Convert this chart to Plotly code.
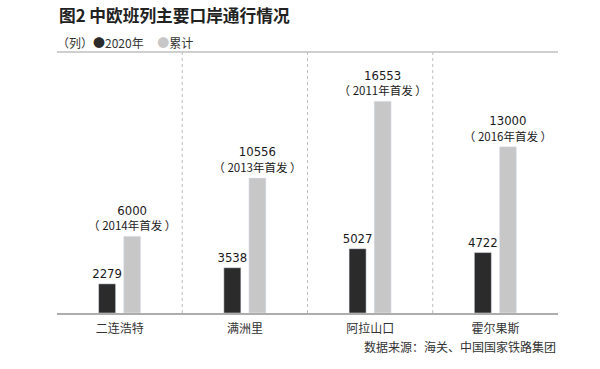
import plotly.graph_objects as go

ports = ["二连浩特", "满洲里", "阿拉山口", "霍尔果斯"]
trains_2020 = [2279, 3538, 5027, 4722]
trains_total = [6000, 10556, 16553, 13000]
first_year = [2014, 2013, 2011, 2016]

title_text = "图2 中欧班列主要口岸通行情况"
unit_text = "（列）"
series_names = ["2020年", "累计"]
source_text = "数据来源：海关、中国国家铁路集团"

DARK = "#2b2b2b"
LIGHT = "#c7c7c7"
NUM_FONT = "DejaVu Sans Condensed, Noto Sans CJK SC, sans-serif"
CJK_FONT = "Noto Sans CJK SC, sans-serif"

text_2020 = [str(v) for v in trains_2020]
text_total = [
    f"<span style='font-size:13px'>{v}</span><br>"
    f"<span style='font-family:Noto Sans CJK SC;font-size:11.5px'>（ {y}年首发 ）</span>"
    for v, y in zip(trains_total, first_year)
]

fig = go.Figure()
fig.add_trace(go.Bar(
    x=ports, y=trains_2020, name=series_names[0], marker_color=DARK,
    text=text_2020, textposition="outside", constraintext="none", cliponaxis=False,
    textfont=dict(family=NUM_FONT, size=13, color="#1a1a1a"), showlegend=False,
    hoverinfo="skip",
))
fig.add_trace(go.Bar(
    x=ports, y=trains_total, name=series_names[1], marker_color=LIGHT,
    text=text_total, textposition="outside", constraintext="none", cliponaxis=False,
    textfont=dict(family=NUM_FONT, size=12, color="#1a1a1a"), showlegend=False,
    hoverinfo="skip",
))

shapes = [
    dict(type="line", xref="paper", yref="paper", x0=0, x1=1, y0=1, y1=1,
         line=dict(color="#cfcfcf", width=2)),
]
for b in [0.5, 1.5, 2.5]:
    shapes.append(dict(type="line", xref="x", yref="paper", x0=b, x1=b, y0=0, y1=1,
                       line=dict(color="#bdbdbd", width=1, dash="dot")))

annotations = [
    dict(text=f"<b>{title_text}</b>", xref="paper", yref="paper", x=0.0, y=1.142,
         xanchor="left", yanchor="middle", showarrow=False,
         font=dict(family=CJK_FONT, size=16.7, color="#222")),
    dict(text=(f"{unit_text}<span style='color:{DARK}'>●</span>{series_names[0]}"
               f"     <span style='color:{LIGHT}'>●</span>{series_names[1]}"),
         xref="paper", yref="paper", x=-0.004, y=1.038,
         xanchor="left", yanchor="middle", showarrow=False,
         font=dict(family=CJK_FONT, size=12, color="#333")),
    dict(text=source_text, xref="paper", yref="paper", x=1.0, y=-0.13,
         xanchor="right", yanchor="middle", showarrow=False,
         font=dict(family=CJK_FONT, size=12, color="#333")),
]

fig.update_layout(
    width=600, height=369,
    margin=dict(l=57, r=42, t=52, b=56),
    paper_bgcolor="white", plot_bgcolor="white",
    barmode="group", bargap=0.6, bargroupgap=0.32,
    shapes=shapes, annotations=annotations,
    hovermode=False,
    xaxis=dict(showline=True, linecolor="#adadad", linewidth=2, ticks="",
               ticklabelstandoff=4,
               tickfont=dict(family=CJK_FONT, size=12, color="#333"),
               showgrid=False, fixedrange=True),
    yaxis=dict(range=[0, 20400], visible=False, showgrid=False, zeroline=False,
               fixedrange=True),
)

# remove the browser's default 8px body margin so the 600x369 figure fills the window exactly
fig.write_html("out.html", config={"displayModeBar": False},
               post_script="document.body.style.margin='0';")
